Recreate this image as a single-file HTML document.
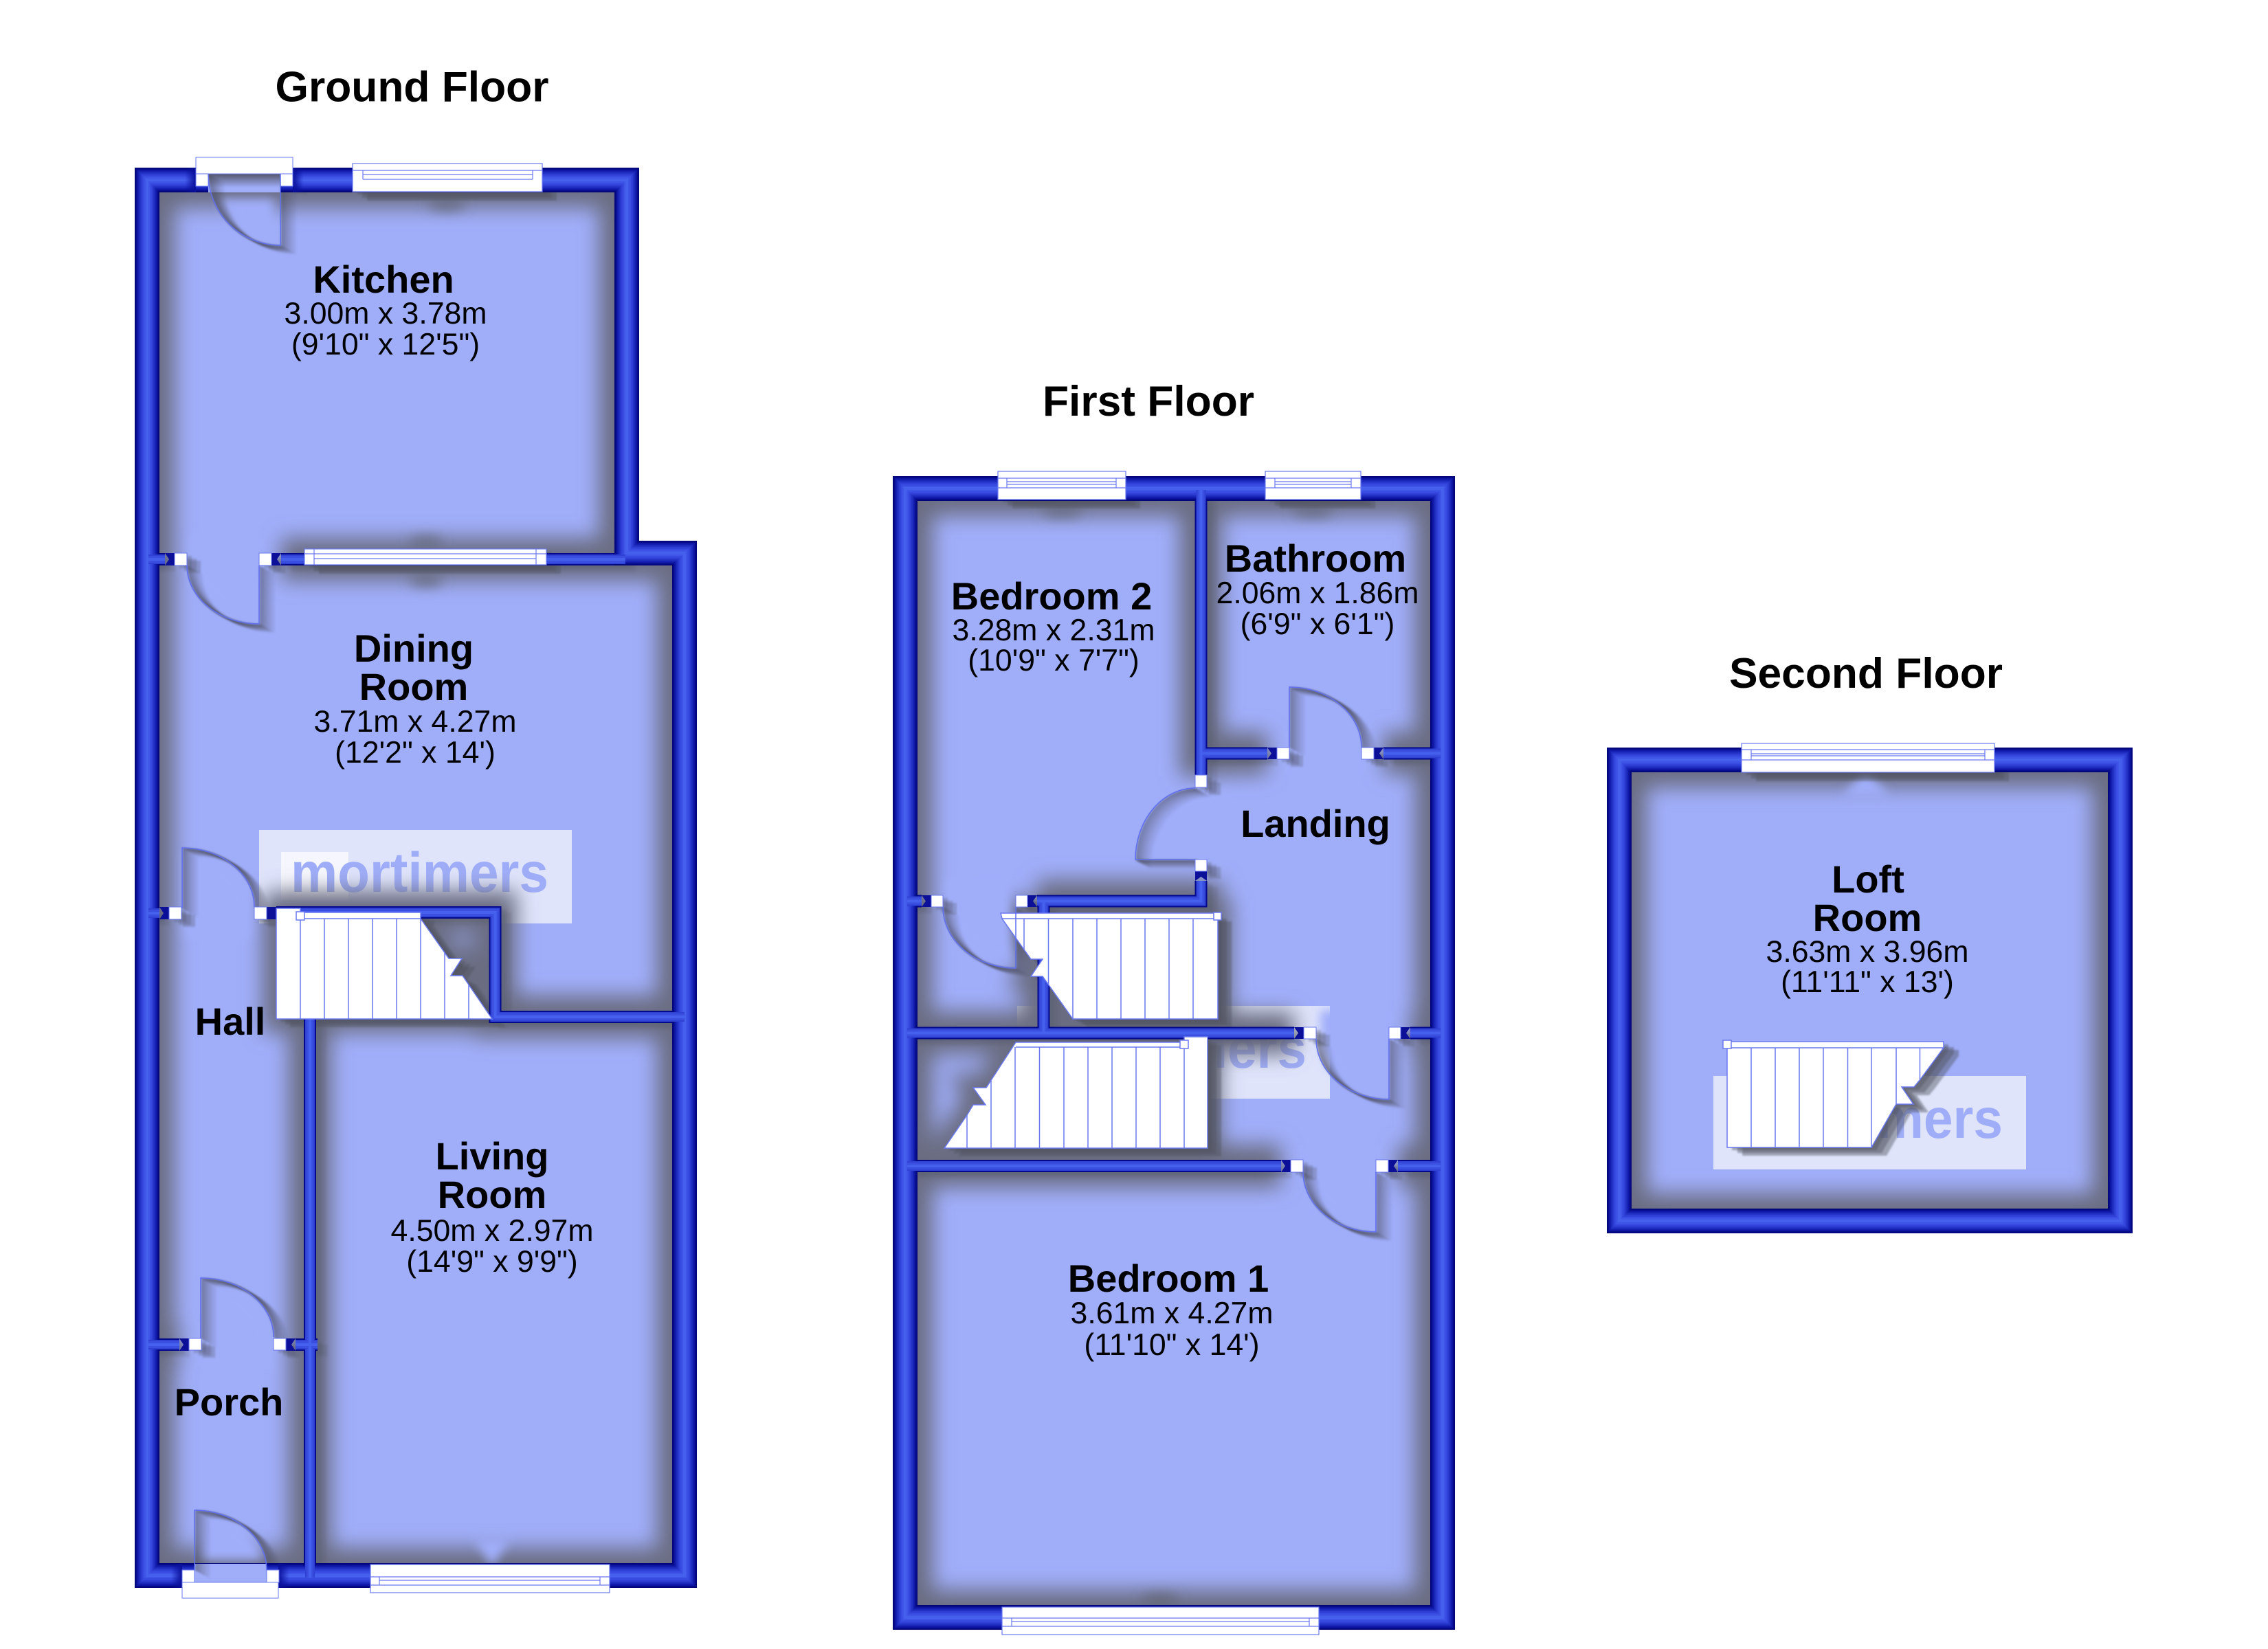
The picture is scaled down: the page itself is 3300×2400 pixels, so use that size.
<!DOCTYPE html>
<html><head><meta charset="utf-8"><title>Floor plan</title>
<style>html,body{margin:0;padding:0;background:#fff}svg{display:block}
text{font-family:"Liberation Sans",Arial,sans-serif;fill:#000}
.h{font-size:62.3px;font-weight:bold;text-anchor:middle}
.b{font-size:56px;font-weight:bold;text-anchor:middle}
.s{font-size:44.6px;text-anchor:middle}
.wm{font-size:82px;font-weight:bold;fill:#9fadf8}
</style></head><body>
<svg xmlns="http://www.w3.org/2000/svg" width="3300" height="2400" viewBox="0 0 3300 2400">
<defs>
<filter id="b15" filterUnits="userSpaceOnUse" x="0" y="0" width="3300" height="2400"><feGaussianBlur stdDeviation="15"/></filter>
<filter id="b7" filterUnits="userSpaceOnUse" x="0" y="0" width="3300" height="2400"><feGaussianBlur stdDeviation="7"/></filter>
<filter id="b2" filterUnits="userSpaceOnUse" x="0" y="0" width="3300" height="2400"><feGaussianBlur stdDeviation="1.2"/></filter>
<filter id="b9" filterUnits="userSpaceOnUse" x="0" y="0" width="3300" height="2400"><feGaussianBlur stdDeviation="9"/></filter>
<linearGradient id="gTop" x1="0" y1="0" x2="0" y2="1"><stop offset="0" stop-color="#55576a"/><stop offset="1" stop-color="#55576a" stop-opacity="0"/></linearGradient>
<linearGradient id="gL" x1="0" y1="0" x2="1" y2="0"><stop offset="0" stop-color="#0a109a" stop-opacity="0"/><stop offset="1" stop-color="#0a109a"/></linearGradient>
<linearGradient id="gR" x1="1" y1="0" x2="0" y2="0"><stop offset="0" stop-color="#0a109a" stop-opacity="0"/><stop offset="1" stop-color="#0a109a"/></linearGradient>
<clipPath id="floors">
<path d="M232,280H894V823H978V2276H232Z"/>
<path d="M1335,728H2081V2337H1335Z"/>
<path d="M2374,1124H3067V1759H2374Z"/>
</clipPath>
<clipPath id="openings">
<rect x="303" y="253" width="105" height="27"/>
<rect x="283" y="2276" width="105" height="27"/>
</clipPath>
<g id="outer" fill="none">
<path d="M214,262H912V805H996V2293H214Z"/>
<path d="M1317,711H2099V2354H1317Z"/>
<path d="M2356,1106H3085V1777H2356Z"/>
</g>
<g id="parts" fill="none">
<path d="M216,814H240"/><path d="M409,814H910"/>
<path d="M216,1329H232"/><path d="M402,1328H720.500V1480H996"/>
<path d="M451,1480V2296"/>
<path d="M216,1957H261"/><path d="M430,1957H462"/>
<path d="M1747.500,713V1130"/>
<path d="M1747.500,1096.500H1844"/><path d="M2013,1096.500H2096"/>
<path d="M1747.500,1282V1311.500H1509"/>
<path d="M1320,1311.500H1341"/>
<path d="M1518.500,1311V1503"/>
<path d="M1320,1503.500H1883"/><path d="M2052,1503.500H2096"/>
<path d="M1320,1697H1864"/><path d="M2034,1697H2096"/>
</g>
<path id="s1" d="M402,1322H437V1328H612V1337L653,1395H672L656,1420H673L716,1483H402Z"/>
<path id="s2" d="M1456,1329H1772V1483H1561L1517,1421H1500L1517,1396H1500L1458,1337Z"/>
<path id="s3" d="M1374,1671L1407,1623L1416,1608H1434L1416,1583H1435L1478,1517H1723V1509H1757V1671Z"/>
<path id="s4" d="M2513,1516H2828V1525L2794,1571L2785,1582H2767L2784,1607H2759L2723,1670H2513Z"/>
<g id="dl" fill="none">
<path d="M408,253V357A105,104 0 0 1 303,253"/>
<path d="M377,823V908A105,85 0 0 1 272,823"/>
<path d="M265,1322V1234A105,86 0 0 1 370,1320"/>
<path d="M292,1948V1860A106,86 0 0 1 398,1946"/>
<path d="M283,2285V2198A105,87 0 0 1 388,2285"/>
<path d="M1876,1088V1000A105,88 0 0 1 1981,1088"/>
<path d="M1739,1251H1652A87,104 0 0 1 1739,1147"/>
<path d="M1478,1320V1409A106,89 0 0 1 1372,1320"/>
<path d="M2021,1512V1600A106,88 0 0 1 1915,1512"/>
<path d="M2002,1706V1793A106,87 0 0 1 1896,1706"/>
</g>
<g id="sw" stroke="#4d4f60" stroke-width="3">
<use href="#dl" transform="translate(22,12.100)" stroke-opacity=".05"/>
<use href="#dl" transform="translate(20,11)" stroke-opacity=".08"/>
<use href="#dl" transform="translate(18,9.900)" stroke-opacity=".11"/>
<use href="#dl" transform="translate(16,8.800)" stroke-opacity=".14"/>
<use href="#dl" transform="translate(14,7.700)" stroke-opacity=".18"/>
<use href="#dl" transform="translate(12,6.600)" stroke-opacity=".22"/>
<use href="#dl" transform="translate(10,5.500)" stroke-opacity=".26"/>
<use href="#dl" transform="translate(8,4.400)" stroke-opacity=".30"/>
<use href="#dl" transform="translate(6,3.300)" stroke-opacity=".34"/>
<use href="#dl" transform="translate(4,2.200)" stroke-opacity=".38"/>
<use href="#dl" transform="translate(2,1.100)" stroke-opacity=".42"/>
</g>
<g id="jb">
<rect x="254" y="805" width="18" height="18"/><rect x="377" y="805" width="18" height="18"/>
<rect x="246" y="1320" width="18" height="18"/><rect x="370" y="1320" width="18" height="18"/>
<rect x="275" y="1948" width="18" height="17"/><rect x="398" y="1948" width="18" height="17"/>
<rect x="1858" y="1088" width="18" height="17"/><rect x="1981" y="1088" width="18" height="17"/>
<rect x="1739" y="1128" width="17" height="18"/><rect x="1739" y="1251" width="17" height="17"/>
<rect x="1355" y="1303" width="17" height="17"/><rect x="1478" y="1303" width="17" height="17"/>
<rect x="1897" y="1495" width="18" height="17"/><rect x="2021" y="1495" width="17" height="17"/>
<rect x="1878" y="1688" width="18" height="18"/><rect x="2002" y="1688" width="18" height="18"/>
<rect x="285" y="253" width="18" height="18"/><rect x="408" y="253" width="18" height="18"/>
</g>
<g id="wins">
<rect x="513" y="238" width="276" height="41"/>
<rect x="443" y="799" width="352" height="23"/>
<rect x="539" y="2277" width="348" height="41"/>
<rect x="1452" y="686" width="186" height="41"/>
<rect x="1841" y="686" width="139" height="41"/>
<rect x="1458" y="2339" width="461" height="40"/>
<rect x="2534" y="1082" width="368" height="42"/>
</g>
</defs>

<rect width="3300" height="2400" fill="#fff"/>

<!-- floors -->
<path d="M232,280H894V823H978V2276H232Z" fill="#a0aefa"/>
<path d="M1335,728H2081V2337H1335Z" fill="#a0aefa"/>
<path d="M2374,1124H3067V1759H2374Z" fill="#a0aefa"/>

<!-- watermarks -->
<rect x="377" y="1208" width="455" height="136" fill="#dfe4fb"/>
<rect x="409" y="1240" width="98" height="70" fill="#f6f7fe"/>
<text class="wm" x="423" y="1298" textLength="375" lengthAdjust="spacingAndGlyphs">mortimers</text>
<rect x="1480" y="1464" width="455" height="135" fill="#dfe4fb"/>
<text class="wm" x="1526" y="1554" textLength="375" lengthAdjust="spacingAndGlyphs">mortimers</text>
<rect x="2493" y="1566" width="455" height="136" fill="#dfe4fb"/>
<text class="wm" x="2539" y="1656" textLength="375" lengthAdjust="spacingAndGlyphs">mortimers</text>

<!-- soft wall shadows -->
<g clip-path="url(#floors)">
<g filter="url(#b15)" stroke="#6a6d82" fill="#6a6d82">
<use href="#outer" stroke-width="80"/>
<use href="#parts" stroke-width="62"/>
<use href="#s1" stroke-width="40"/>
<use href="#s2" stroke-width="40"/>
<use href="#s3" stroke-width="40"/>
</g>
<!-- clearing at door openings -->
<g filter="url(#b7)" fill="#a0aefa">
<path d="M398,290V345A90,90 0 0 1 318,290Z"/>
<path d="M372,780V900A100,80 0 0 1 278,815V780Z"/>
<path d="M270,1365V1240A100,82 0 0 1 364,1320V1365Z"/>
<path d="M298,1990V1866A100,82 0 0 1 392,1946V1990Z"/>
<path d="M290,2270V2204A100,82 0 0 1 382,2270Z"/>
<path d="M1882,1130V1006A100,82 0 0 1 1975,1088V1130Z"/>
<path d="M1790,1245H1660A80,98 0 0 1 1739,1153H1790Z"/>
<path d="M1472,1280V1403A100,84 0 0 1 1378,1320V1280Z"/>
<path d="M2015,1470V1594A100,82 0 0 1 1921,1512V1470Z"/>
<path d="M1996,1665V1787A100,82 0 0 1 1902,1706V1665Z"/>
<path d="M2715,1120L2680,1160H2750Z"/>
<path d="M716,2280L690,2240H742Z"/>
</g>
<!-- window blobs -->
<g filter="url(#b9)" fill="#5f616f" fill-opacity=".8">
<ellipse cx="650" cy="298" rx="28" ry="8"/>
<ellipse cx="620" cy="788" rx="25" ry="7"/>
<ellipse cx="620" cy="845" rx="25" ry="8"/>
<ellipse cx="1545" cy="745" rx="30" ry="7"/>
<ellipse cx="1910" cy="745" rx="30" ry="7"/>
<ellipse cx="1688" cy="2328" rx="28" ry="8"/>
</g>
<!-- door sweep shadows -->
<use href="#sw" filter="url(#b2)"/>
<!-- jamb / partition sweep shadows -->
<g filter="url(#b2)" fill="#4d4f60" fill-opacity=".28">
<use href="#jb" transform="translate(20,11)"/>
<use href="#jb" transform="translate(14,8)"/>
<use href="#jb" transform="translate(7,4)"/>
</g>
<g filter="url(#b2)" stroke="#4d4f60" stroke-opacity=".16" stroke-width="18">
<use href="#parts" transform="translate(15,9)"/>
<use href="#parts" transform="translate(8,5)"/>
</g>
<!-- window + stair hard shadows -->
<g filter="url(#b2)" fill="#4f5160" fill-opacity=".45">
<use href="#wins" transform="translate(21,13)"/>
<use href="#wins" transform="translate(14,9)"/>
<use href="#wins" transform="translate(7,4)"/>
<use href="#s1" transform="translate(20,12)"/>
<use href="#s1" transform="translate(13,8)"/>
<use href="#s1" transform="translate(6,4)"/>
<use href="#s2" transform="translate(20,12)"/>
<use href="#s2" transform="translate(13,8)"/>
<use href="#s2" transform="translate(6,4)"/>
<use href="#s3" transform="translate(20,12)"/>
<use href="#s3" transform="translate(13,8)"/>
<use href="#s3" transform="translate(6,4)"/>
<use href="#s4" transform="translate(22,12)"/>
<use href="#s4" transform="translate(15,8)"/>
<use href="#s4" transform="translate(7,4)"/>
</g>
</g>

<!-- outer walls -->
<use href="#outer" stroke="#020678" stroke-width="36"/>
<use href="#outer" stroke="#060c8c" stroke-width="33"/>
<use href="#outer" stroke="#0c14a0" stroke-width="30"/>
<use href="#outer" stroke="#141eb0" stroke-width="27"/>
<use href="#outer" stroke="#1c2abc" stroke-width="24"/>
<use href="#outer" stroke="#2433c8" stroke-width="21"/>
<use href="#outer" stroke="#2c3cd2" stroke-width="18"/>
<use href="#outer" stroke="#3344dc" stroke-width="15"/>
<use href="#outer" stroke="#384ce2" stroke-width="12"/>
<use href="#outer" stroke="#3f55e8" stroke-width="8"/>
<use href="#outer" stroke="#4660ee" stroke-width="4"/>
<!-- wall-end bevels at external doors -->
<rect x="269" y="244" width="16" height="36" fill="url(#gL)"/>
<rect x="426" y="244" width="16" height="36" fill="url(#gR)"/>
<rect x="249" y="2276" width="16" height="35" fill="url(#gL)"/>
<rect x="405" y="2276" width="16" height="35" fill="url(#gR)"/>
<!-- external door openings -->
<rect x="303" y="244" width="105" height="36" fill="#a0aefa"/>
<rect x="283" y="2276" width="105" height="27" fill="#a0aefa"/>
<rect x="303" y="253" width="105" height="20" fill="url(#gTop)"/>
<g clip-path="url(#openings)"><use href="#sw" filter="url(#b2)"/></g>
<!-- partitions: dark edges only inside rooms, light core runs into outer wall -->
<g clip-path="url(#floors)">
<use href="#parts" stroke="#04088a" stroke-width="18"/>
</g>
<use href="#parts" stroke="#2f42d4" stroke-width="14"/>
<use href="#parts" stroke="#3a4fe0" stroke-width="10"/>
<use href="#parts" stroke="#4660ee" stroke-width="4"/>

<!-- bow-tie wall ends -->
<g fill="#0c1098">
<path d="M254,805H240L246,814L240,823H254Z"/><path d="M395,805H409L403,814L409,823H395Z"/>
<path d="M246,1320H232L238,1329L232,1338H246Z"/><path d="M388,1320H402V1338H388Z"/>
<path d="M275,1948H261L267,1957L261,1966H275Z"/><path d="M416,1948H430L424,1957L430,1966H416Z"/>
<path d="M1858,1088H1844L1850,1096.500L1844,1105H1858Z"/><path d="M1999,1088H2013L2007,1096.500L2013,1105H1999Z"/>
<path d="M1355,1303H1341L1347,1311.500L1341,1320H1355Z"/><path d="M1495,1303H1509L1503,1311.500L1509,1320H1495Z"/>
<path d="M1897,1495H1883L1889,1503.500L1883,1512H1897Z"/><path d="M2038,1495H2052L2046,1503.500L2052,1512H2038Z"/>
<path d="M1878,1688H1864L1870,1697L1864,1706H1878Z"/><path d="M2020,1688H2034L2028,1697L2034,1706H2020Z"/>
<path d="M1739,1146V1130L1747.500,1136L1756,1130V1146Z"/><path d="M1739,1268V1282L1747.500,1276L1756,1282V1268Z"/>
</g>

<!-- jambs -->
<g fill="#fff" stroke="#6a78f0" stroke-width="1">
<use href="#jb"/>
<rect x="265" y="2285" width="18" height="18"/><rect x="388" y="2285" width="18" height="18"/>
<rect x="285" y="229" width="141" height="24"/>
<rect x="265" y="2303" width="140" height="23"/>
</g>

<!-- windows -->
<g fill="#fff" stroke="#6a78f0" stroke-width="1.200">
<use href="#wins"/>
</g>
<g fill="none" stroke="#6a78f0" stroke-width="1.200">
<path d="M513,248H789M528,248V261M775,248V261M528,254H775M528,261H775"/>
<path d="M443,806H795M457,799V822M780,799V822M457,813H780"/>
<path d="M539,2295H887M552,2295V2307M873,2295V2307M539,2307H887M552,2300H873"/>
<path d="M1452,696H1638M1465,696V710M1624,696V710M1465,701H1624M1465,705H1624M1452,710H1638"/>
<path d="M1841,696H1980M1855,696V710M1966,696V710M1855,701H1966M1855,705H1966M1841,710H1980"/>
<path d="M1458,2355H1919M1472,2355V2367M1905,2355V2367M1472,2360H1905M1458,2367H1919"/>
<path d="M2534,1091H2902M2548,1091V1106M2888,1091V1106M2548,1097H2888M2548,1100H2888M2534,1106H2902"/>
</g>

<!-- stairs -->
<g fill="#fff" stroke="#6a78f0" stroke-width="1.500">
<use href="#s1"/><use href="#s2"/><use href="#s3"/><use href="#s4"/>
</g>
<g fill="none" stroke="#6a78f0" stroke-width="1.500">
<path d="M437,1337H612M437,1337V1483M472,1337V1483M507,1337V1483M542,1337V1483M577,1337V1483M612,1337V1483M647,1387V1483M682,1433V1483"/>
<path d="M1458,1337H1772M1490,1337V1382M1525.500,1337V1433M1561,1337V1483M1596,1337V1483M1631,1337V1483M1666,1337V1483M1701,1337V1483M1736,1337V1483"/>
<path d="M1478,1524H1723M1407,1623V1671M1442,1573V1671M1477,1524V1671M1512.500,1524V1671M1548,1524V1671M1583,1524V1671M1618,1524V1671M1653,1524V1671M1688,1524V1671M1723,1517V1671"/>
<path d="M2513,1525H2828M2548,1525V1670M2583,1525V1670M2618,1525V1670M2653,1525V1670M2688.500,1525V1670M2723,1525V1670M2759,1525V1607M2793.500,1525V1571"/>
</g>
<g fill="#fff" stroke="#6a78f0" stroke-width="1.500">
<rect x="431" y="1327" width="12" height="12"/>
<rect x="1766" y="1328" width="11" height="11"/>
<rect x="1717" y="1514" width="12" height="12"/>
<rect x="2507" y="1514" width="12" height="12"/>
</g>

<!-- door outlines -->
<use href="#dl" stroke="#5f6ff0" stroke-width="1.500"/>

<!-- labels -->
<text class="h" x="599.500" y="147.500">Ground Floor</text>
<text class="h" x="1671" y="605">First Floor</text>
<text class="h" x="2715" y="1001">Second Floor</text>

<text class="b" x="558" y="426">Kitchen</text>
<text class="s" x="561" y="471">3.00m x 3.78m</text>
<text class="s" x="561" y="516">(9'10" x 12'5")</text>

<text class="b" x="602" y="963">Dining</text>
<text class="b" x="602" y="1019">Room</text>
<text class="s" x="604" y="1065">3.71m x 4.27m</text>
<text class="s" x="604" y="1110">(12'2" x 14')</text>

<text class="b" x="335" y="1506">Hall</text>
<text class="b" x="333" y="2060">Porch</text>

<text class="b" x="716" y="1702">Living</text>
<text class="b" x="716" y="1758">Room</text>
<text class="s" x="716" y="1806">4.50m x 2.97m</text>
<text class="s" x="716" y="1851">(14'9" x 9'9")</text>

<text class="b" x="1530" y="887">Bedroom 2</text>
<text class="s" x="1533" y="932">3.28m x 2.31m</text>
<text class="s" x="1533" y="976">(10'9" x 7'7")</text>

<text class="b" x="1914" y="832">Bathroom</text>
<text class="s" x="1917" y="878">2.06m x 1.86m</text>
<text class="s" x="1917" y="923">(6'9" x 6'1")</text>

<text class="b" x="1914" y="1218">Landing</text>

<text class="b" x="1700" y="1880">Bedroom 1</text>
<text class="s" x="1705" y="1926">3.61m x 4.27m</text>
<text class="s" x="1705" y="1972">(11'10" x 14')</text>

<text class="b" x="2718" y="1299">Loft</text>
<text class="b" x="2717" y="1355">Room</text>
<text class="s" x="2717" y="1400">3.63m x 3.96m</text>
<text class="s" x="2717" y="1444">(11'11" x 13')</text>
</svg>
</body></html>
